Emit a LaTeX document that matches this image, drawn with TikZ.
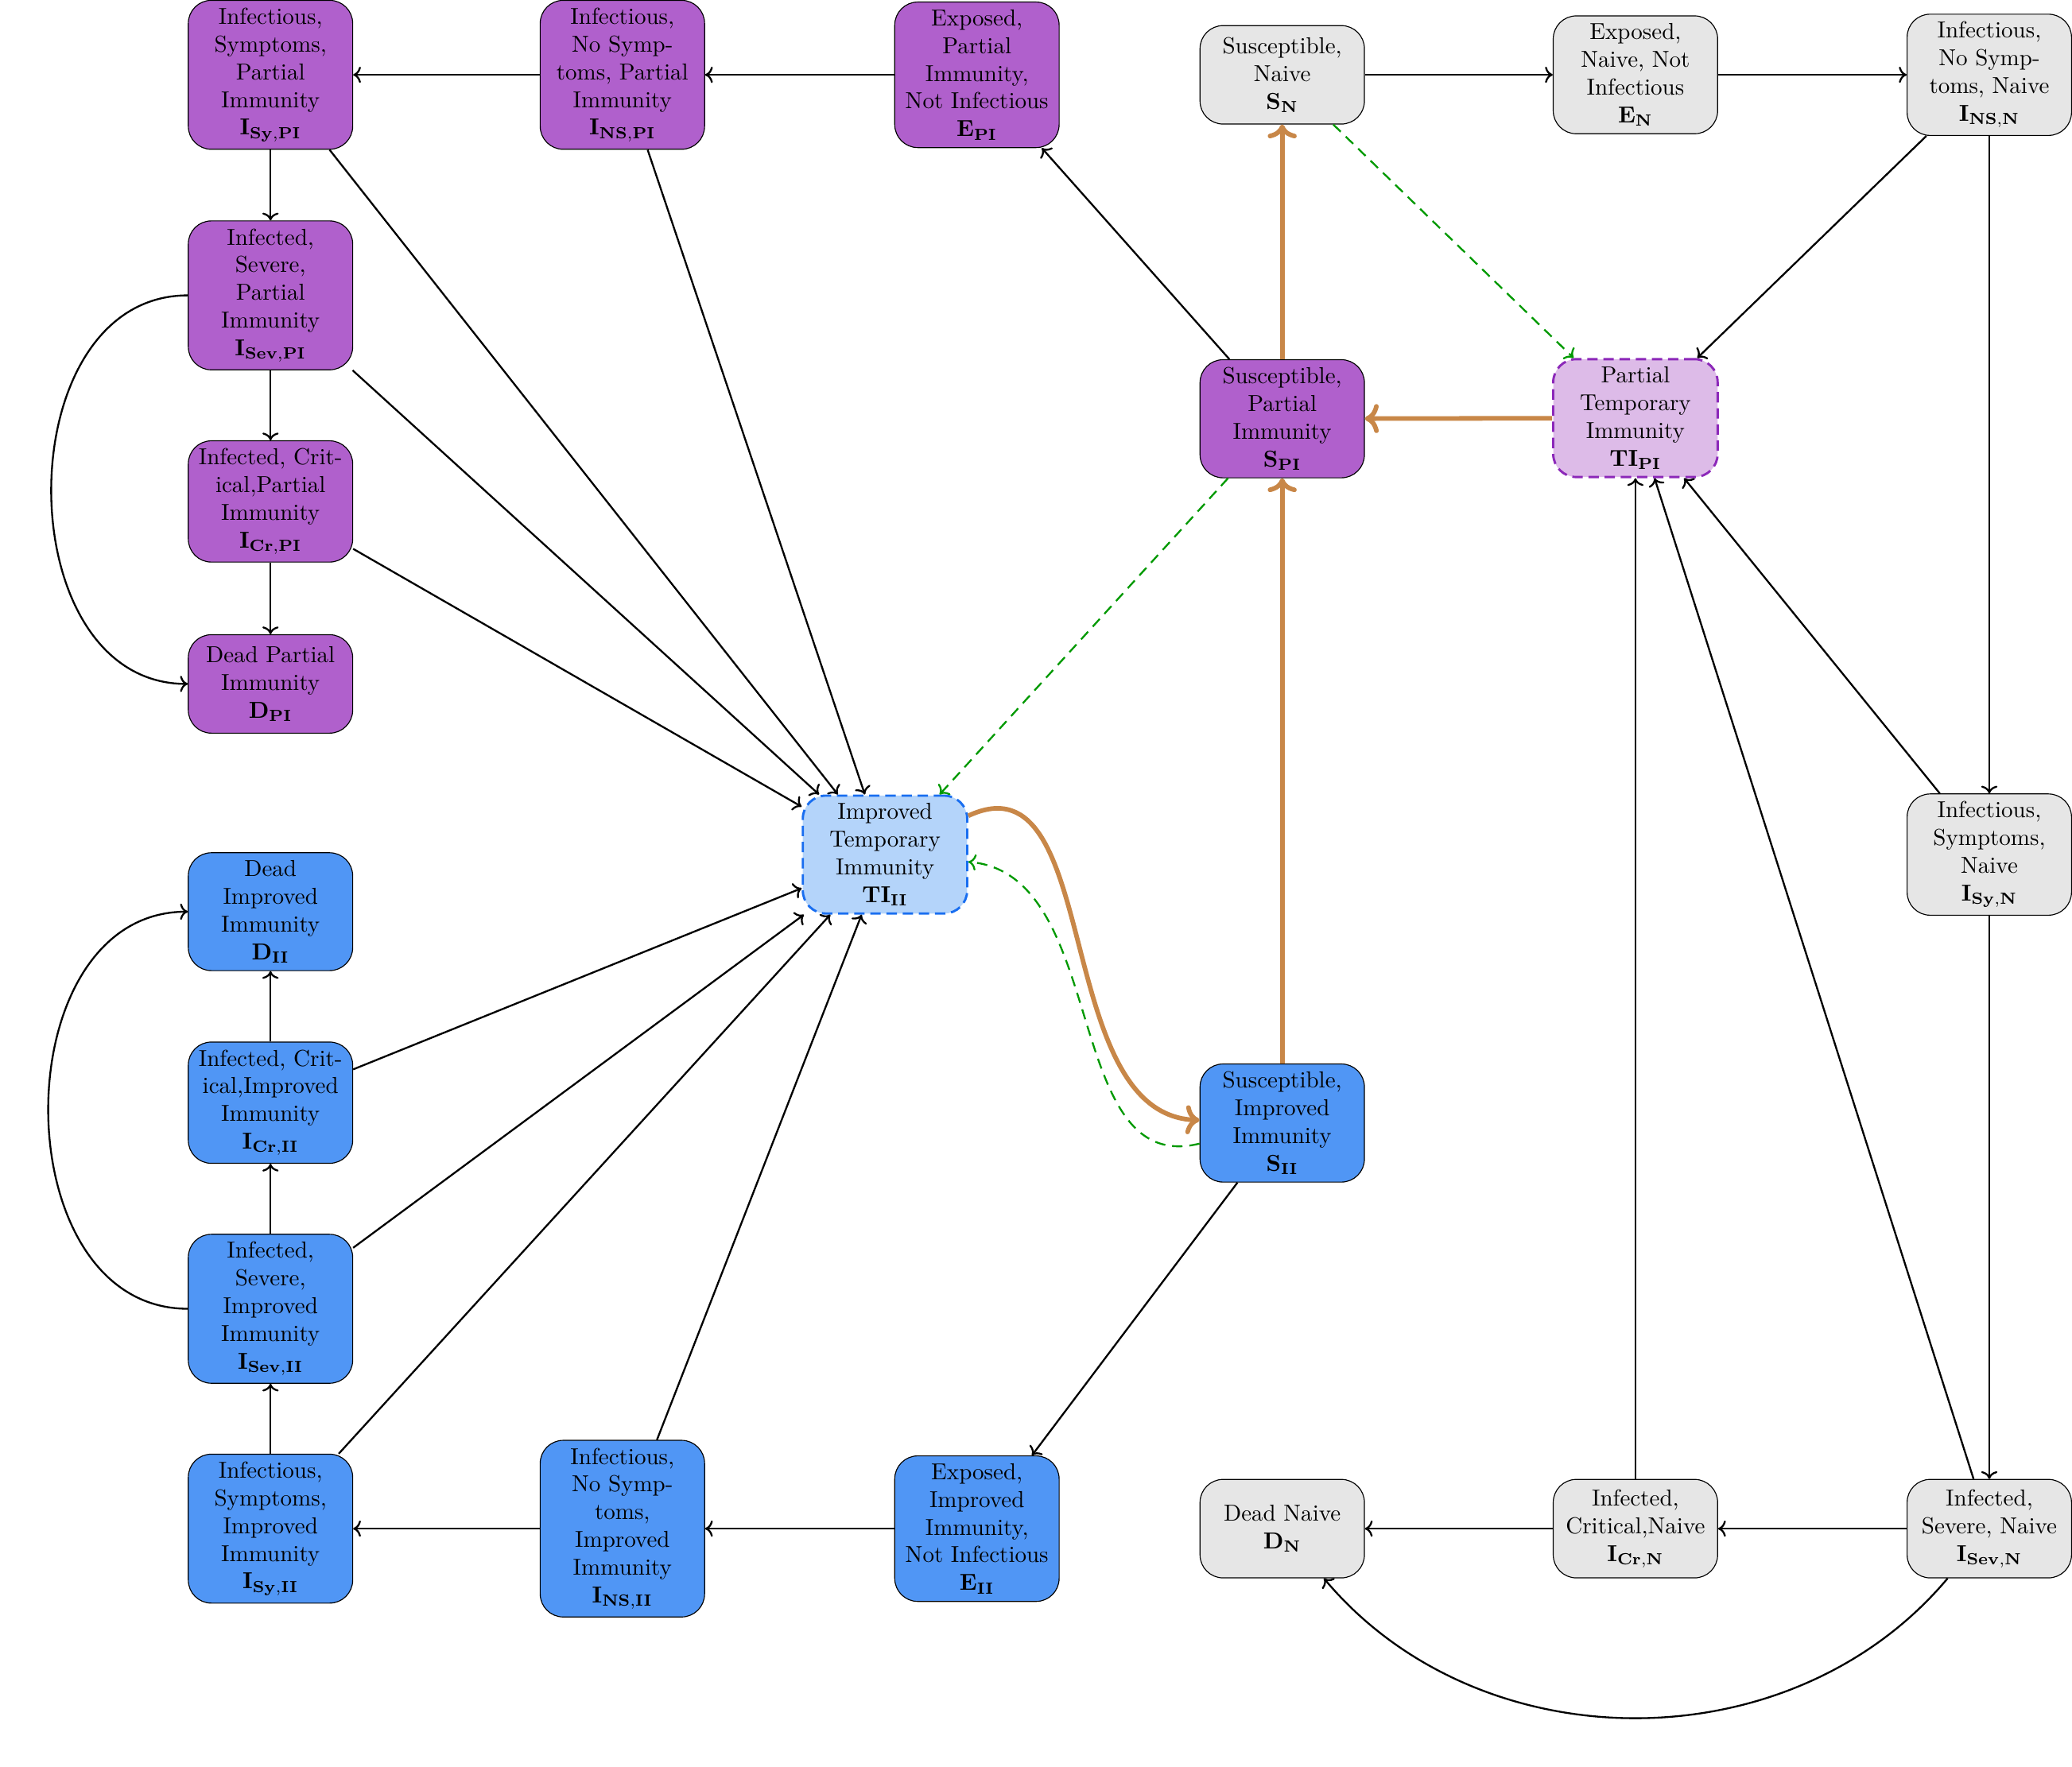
\documentclass[tikz,border=0pt]{standalone}
\usepackage{amsmath}
\usepackage{xcolor}
\usepackage{tikz}
\usetikzlibrary{arrows.meta,positioning,calc}
\definecolor{cmpurple}{RGB}{176,96,204}
\definecolor{cmlilac}{RGB}{221,187,232}
\definecolor{cmviolet}{RGB}{140,40,185}
\definecolor{cmblue}{RGB}{80,150,245}
\definecolor{cmsky}{RGB}{180,212,250}
\definecolor{cmazure}{RGB}{25,110,240}
\definecolor{cmgrey}{RGB}{230,230,230}
\definecolor{cmorange}{RGB}{200,135,72}
\definecolor{cmgreen}{RGB}{0,153,0}

\begin{document}
\begin{tikzpicture}[
  box/.style={draw=black,line width=.4pt,rounded corners=10pt,align=center,text width=2.27cm,minimum height=1.5cm,inner sep=3.33pt},
  naive/.style={box,fill=cmgrey},
  partial/.style={box,fill=cmpurple},
  improved/.style={box,fill=cmblue},
  temppartial/.style={box,fill=cmlilac,draw=cmviolet,line width=1pt,dash pattern=on 4.5pt off 2.5pt},
  tempimproved/.style={box,fill=cmsky,draw=cmazure,line width=1pt,dash pattern=on 4.5pt off 2.5pt},
  flow/.style={-{To},thick},
  wane/.style={-{To},draw=cmorange,line width=2pt},
  boost/.style={-{To},draw=cmgreen,thick,dash pattern=on 4.5pt off 3pt}]

\path[use as bounding box] (0,0) rectangle (31.56,-26.91);

% partial immunity
\node[partial] (ISyPI) at (4.12,-1.14) {Infectious,\\Symptoms,\\Partial\\Immunity\\$\mathbf{I_{Sy,PI}}$};
\node[partial] (INSPI) at (9.48,-1.14) {Infectious,\\No Symp-\\toms, Partial\\Immunity\\$\mathbf{I_{NS,PI}}$};
\node[partial] (EPI) at (14.88,-1.14) {Exposed,\\Partial\\Immunity,\\Not Infectious\\$\mathbf{E_{PI}}$};
\node[partial] (ISevPI) at (4.12,-4.50) {Infected,\\Severe,\\Partial\\Immunity\\$\mathbf{I_{Sev,PI}}$};
\node[partial] (ICrPI) at (4.12,-7.64) {Infected, Crit-\\ical,Partial\\Immunity\\$\mathbf{I_{Cr,PI}}$};
\node[partial] (DPI) at (4.12,-10.42) {Dead Partial\\Immunity\\$\mathbf{D_{PI}}$};
\node[partial] (SPI) at (19.53,-6.38) {Susceptible,\\Partial\\Immunity\\$\mathbf{S_{PI}}$};
\node[temppartial] (TIPI) at (24.91,-6.37) {Partial\\Temporary\\Immunity\\$\mathbf{TI_{PI}}$};

% naive
\node[naive] (SN) at (19.53,-1.14) {Susceptible,\\Naive\\$\mathbf{S_N}$};
\node[naive] (EN) at (24.91,-1.14) {Exposed,\\Naive, Not\\Infectious\\$\mathbf{E_N}$};
\node[naive] (INSN) at (30.30,-1.14) {Infectious,\\No Symp-\\toms, Naive\\$\mathbf{I_{NS,N}}$};
\node[naive] (ISyN) at (30.30,-13.02) {Infectious,\\Symptoms,\\Naive\\$\mathbf{I_{Sy,N}}$};
\node[naive] (ISevN) at (30.30,-23.29) {Infected,\\Severe, Naive\\$\mathbf{I_{Sev,N}}$};
\node[naive] (ICrN) at (24.91,-23.29) {Infected,\\Critical,Naive\\$\mathbf{I_{Cr,N}}$};
\node[naive] (DN) at (19.53,-23.29) {Dead Naive\\$\mathbf{D_N}$};

% improved immunity
\node[tempimproved] (TIII) at (13.48,-13.02) {Improved\\Temporary\\Immunity\\$\mathbf{TI_{II}}$};
\node[improved] (DII) at (4.12,-13.89) {Dead\\Improved\\Immunity\\$\mathbf{D_{II}}$};
\node[improved] (ICrII) at (4.12,-16.80) {Infected, Crit-\\ical,Improved\\Immunity\\$\mathbf{I_{Cr,II}}$};
\node[improved] (ISevII) at (4.12,-19.94) {Infected,\\Severe,\\Improved\\Immunity\\$\mathbf{I_{Sev,II}}$};
\node[improved] (ISyII) at (4.12,-23.29) {Infectious,\\Symptoms,\\Improved\\Immunity\\$\mathbf{I_{Sy,II}}$};
\node[improved] (INSII) at (9.48,-23.29) {Infectious,\\No Symp-\\toms,\\Improved\\Immunity\\$\mathbf{I_{NS,II}}$};
\node[improved] (EII) at (14.88,-23.29) {Exposed,\\Improved\\Immunity,\\Not Infectious\\$\mathbf{E_{II}}$};
\node[improved] (SII) at (19.53,-17.11) {Susceptible,\\Improved\\Immunity\\$\mathbf{S_{II}}$};

% progression
\draw[flow] (EPI)--(INSPI);
\draw[flow] (INSPI)--(ISyPI);
\draw[flow] (ISyPI)--(ISevPI);
\draw[flow] (ISevPI)--(ICrPI);
\draw[flow] (ICrPI)--(DPI);
\draw[flow] (ISevPI.west) to[out=180,in=180,looseness=1.2] (DPI.west);
\draw[flow] (SPI)--(EPI);
\foreach \src in {ISyPI,INSPI,ISevPI,ICrPI,ICrII,ISevII,ISyII,INSII}
  \draw[flow] (\src)--(TIII);

\draw[flow] (SN)--(EN);
\draw[flow] (EN)--(INSN);
\draw[flow] (INSN)--(ISyN);
\draw[flow] (ISyN)--(ISevN);
\draw[flow] (ISevN)--(ICrN);
\draw[flow] (ICrN)--(DN);
\draw[flow] (ISevN) to[bend left=50] (DN);
\foreach \src in {INSN,ISyN,ISevN,ICrN}
  \draw[flow] (\src)--(TIPI);

\draw[flow] (EII)--(INSII);
\draw[flow] (INSII)--(ISyII);
\draw[flow] (ISyII)--(ISevII);
\draw[flow] (ISevII)--(ICrII);
\draw[flow] (ICrII)--(DII);
\draw[flow] (ISevII.west) to[out=180,in=180,looseness=1.2] (DII.west);
\draw[flow] (SII)--(EII);

% waning
\draw[wane] (SII)--(SPI);
\draw[wane] (SPI)--(SN);
\draw[wane] (TIPI)--(SPI);
\draw[wane] (TIII) to[out=25,in=178] (SII);

% boosting
\draw[boost] (SN)--(TIPI);
\draw[boost] (SPI)--(TIII);
\draw[boost] (SII) to[out=194,in=-5] (TIII);

\end{tikzpicture}
\end{document}
